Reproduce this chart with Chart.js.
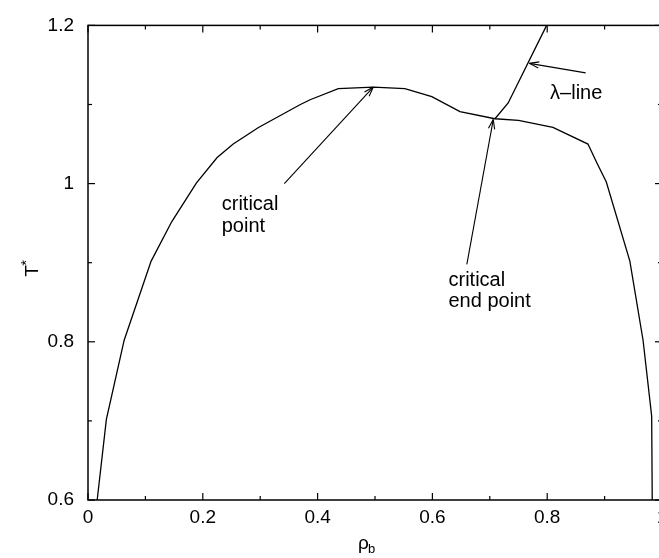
<!DOCTYPE html>
<html>
<head>
  <title>T* - rho_b phase diagram</title>
  <script src="https://cdn.jsdelivr.net/npm/chart.js"></script>
  <style>
    html, body {
      margin: 0;
      padding: 0;
      overflow: hidden;
      background: #fff;
    }
    canvas {
      display: block;
    }
  </style>
</head>
<body>
  <canvas id="chart" width="670" height="558"></canvas>

  <script>
    // liquid-vapour coexistence curve
    var coexRho = [0.016, 0.032, 0.063, 0.110, 0.146, 0.189, 0.225, 0.253, 0.297, 0.370, 0.387, 0.436, 0.497,
                   0.552, 0.599, 0.648, 0.709, 0.750, 0.810, 0.871, 0.886, 0.903, 0.944, 0.967, 0.982, 0.983];
    var coexT   = [0.600, 0.702, 0.802, 0.902, 0.952, 1.001, 1.033, 1.050, 1.071, 1.100, 1.106, 1.120, 1.122,
                   1.120, 1.110, 1.091, 1.082, 1.080, 1.071, 1.050, 1.027, 1.002, 0.902, 0.802, 0.706, 0.600];

    // lambda line, starting at the critical end point
    var lambdaRho = [0.709, 0.732, 0.799];
    var lambdaT   = [1.082, 1.102, 1.200];

    // axis ticks
    var xTicks = [0, 0.2, 0.4, 0.6, 0.8, 1];
    var yTicks = [0.6, 0.8, 1, 1.2];
    var xMinor = [0.1, 0.3, 0.5, 0.7, 0.9];
    var yMinor = [0.7, 0.9, 1.1];

    // annotation arrows: tail -> head, in data units
    var arrowFrom = [[0.342, 1.000], [0.660, 0.898], [0.867, 1.140]];
    var arrowTo   = [[0.497, 1.122], [0.706, 1.081], [0.769, 1.152]];

    // annotation labels (left edge, baseline of first line)
    var noteText = [["critical", "point"], ["critical", "end point"], ["\u03bb\u2013line"]];
    var notePos  = [[0.233, 0.966], [0.628, 0.871], [0.805, 1.107]];

    var FONT = "'Liberation Sans', Arial, Helvetica, sans-serif";

    function toPoints(xs, ys) {
      return xs.map(function (x, i) { return { x: x, y: ys[i] }; });
    }

    function fmt(v) {
      return String(+v.toFixed(1));
    }

    function seg(ctx, x1, y1, x2, y2) {
      ctx.beginPath();
      ctx.moveTo(x1, y1);
      ctx.lineTo(x2, y2);
      ctx.stroke();
    }

    // frame, inward tick marks, arrows, labels and axis titles
    var decorations = {
      id: 'decorations',
      afterDatasetsDraw: function (chart) {
        var ctx = chart.ctx;
        var a = chart.chartArea;
        var xs = chart.scales.x, ys = chart.scales.y;
        ctx.save();
        ctx.strokeStyle = '#000';
        ctx.lineWidth = 1.5;
        ctx.strokeRect(a.left, a.top, a.right - a.left, a.bottom - a.top);

        ctx.lineWidth = 1.2;
        function tx(v, len) {
          var p = xs.getPixelForValue(v);
          seg(ctx, p, a.bottom, p, a.bottom - len);
          seg(ctx, p, a.top, p, a.top + len);
        }
        function ty(v, len) {
          var p = ys.getPixelForValue(v);
          seg(ctx, a.left, p, a.left + len, p);
          seg(ctx, a.right, p, a.right - len, p);
        }
        xTicks.forEach(function (v) { tx(v, 7); });
        xMinor.forEach(function (v) { tx(v, 4); });
        yTicks.forEach(function (v) { ty(v, 7); });
        yMinor.forEach(function (v) { ty(v, 4); });

        // arrows with open heads
        ctx.lineWidth = 1.1;
        arrowFrom.forEach(function (f, i) {
          var x1 = xs.getPixelForValue(f[0]), y1 = ys.getPixelForValue(f[1]);
          var x2 = xs.getPixelForValue(arrowTo[i][0]), y2 = ys.getPixelForValue(arrowTo[i][1]);
          seg(ctx, x1, y1, x2, y2);
          var ang = Math.atan2(y2 - y1, x2 - x1);
          var hl = 10, spread = 0.32;
          seg(ctx, x2, y2, x2 - hl * Math.cos(ang - spread), y2 - hl * Math.sin(ang - spread));
          seg(ctx, x2, y2, x2 - hl * Math.cos(ang + spread), y2 - hl * Math.sin(ang + spread));
        });

        // labels
        ctx.fillStyle = '#000';
        ctx.font = '20px ' + FONT;
        ctx.textAlign = 'left';
        ctx.textBaseline = 'alphabetic';
        noteText.forEach(function (lines, i) {
          var x = xs.getPixelForValue(notePos[i][0]);
          var y = ys.getPixelForValue(notePos[i][1]);
          lines.forEach(function (t, j) { ctx.fillText(t, x, y + j * 21.5); });
        });

        // x title: rho with subscript b
        var cx = (a.left + a.right) / 2 - 11;
        ctx.font = '19px ' + FONT;
        ctx.fillText('\u03c1', cx - 6, 549);
        ctx.font = '13px ' + FONT;
        ctx.fillText('b', cx + 4, 553);

        // y title: T with superscript star, rotated
        ctx.translate(38, (a.top + a.bottom) / 2);
        ctx.rotate(-Math.PI / 2);
        ctx.font = '19px ' + FONT;
        ctx.fillText('T', -14, 0);
        ctx.font = '15px ' + FONT;
        ctx.fillText('*', -3, -7);
        ctx.restore();
      }
    };

    var ctx = document.getElementById('chart').getContext('2d');
    var chart = new Chart(ctx, {
      type: 'scatter',
      data: {
        datasets: [{
          label: 'coexistence',
          data: toPoints(coexRho, coexT),
          showLine: true,
          borderColor: '#000',
          borderWidth: 1.3,
          pointRadius: 0,
          tension: 0
        }, {
          label: 'lambda',
          data: toPoints(lambdaRho, lambdaT),
          showLine: true,
          borderColor: '#000',
          borderWidth: 1.3,
          pointRadius: 0,
          tension: 0
        }]
      },
      options: {
        responsive: false,
        animation: false,
        layout: { padding: { top: 22, right: 8, left: 0, bottom: 0 } },
        plugins: {
          legend: { display: false },
          tooltip: { enabled: false }
        },
        scales: {
          x: {
            type: 'linear',
            min: 0,
            max: 1,
            grid: { display: false, drawTicks: false },
            border: { display: false },
            afterBuildTicks: function (s) { s.ticks = xTicks.map(function (v) { return { value: v }; }); },
            afterFit: function (s) { s.height = 58; s.paddingLeft = 0; s.paddingRight = 0; },
            ticks: {
              padding: 6,
              color: '#000',
              font: { family: FONT, size: 19 },
              maxRotation: 0,
              callback: function (v) { return fmt(v); }
            }
          },
          y: {
            type: 'linear',
            min: 0.6,
            max: 1.2,
            grid: { display: false, drawTicks: false },
            border: { display: false },
            afterBuildTicks: function (s) { s.ticks = yTicks.map(function (v) { return { value: v }; }); },
            afterFit: function (s) { s.width = 88; },
            ticks: {
              padding: 14,
              color: '#000',
              font: { family: FONT, size: 19 },
              callback: function (v) { return fmt(v); }
            }
          }
        }
      },
      plugins: [decorations]
    });
  </script>
</body>
</html>
